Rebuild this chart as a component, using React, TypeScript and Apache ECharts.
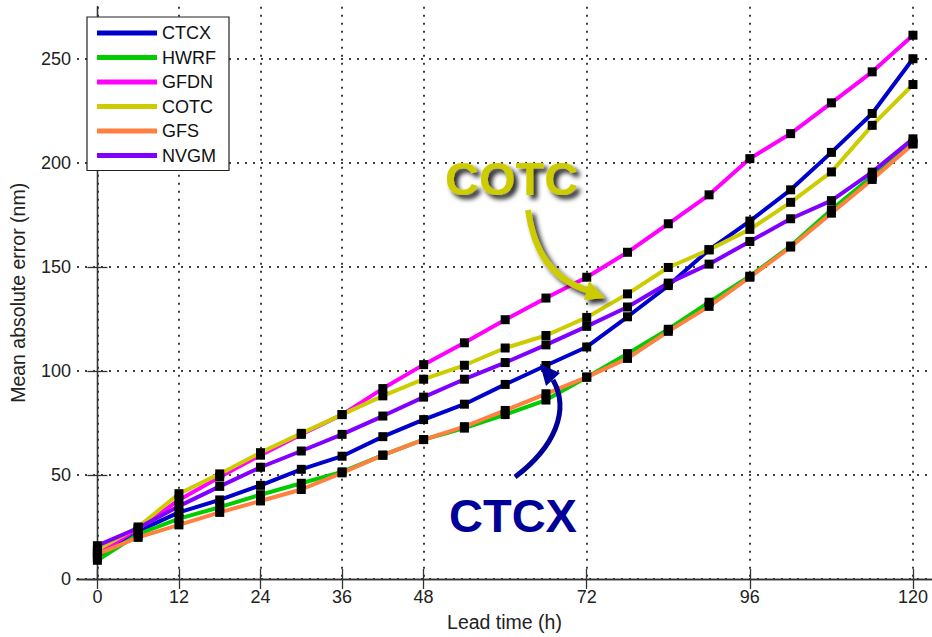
import React, { useEffect, useRef } from "react";
import * as echarts from "echarts";

const leadTimes = [0, 6, 12, 18, 24, 30, 36, 42, 48, 54, 60, 66, 72, 78, 84, 90, 96, 102, 108, 114, 120];
const ctcx = [10.5, 23, 32, 38, 45, 52.7, 59, 68.4, 76.6, 84, 93.5, 102.6, 111.5, 126, 141, 158.2, 172, 187, 205, 223.7, 250];
const hwrf = [9, 21.5, 29, 34.5, 40.5, 46, 51.5, 59.5, 67, 72.5, 79, 86, 97, 108.3, 120, 133, 145.5, 160, 177.4, 193.5, 209.5];
const gfdn = [12.5, 24, 38, 49, 59.5, 69.5, 79, 91.5, 103, 113.5, 124.6, 135, 145, 157, 170.7, 184.6, 202, 214, 228.8, 243.7, 261.3];
const cotc = [14, 25, 41, 50.5, 60.7, 70, 79, 88, 96, 102.7, 111, 117, 125.7, 137, 149.7, 158.2, 168, 181, 195.6, 218, 237.6];
const gfs = [12, 20, 26, 32, 37.5, 43, 51, 59.5, 67, 73.2, 81, 89, 97, 106, 119, 131, 145, 159.5, 175.8, 192, 209];
const nvgm = [16, 24.5, 35, 44.5, 53.7, 61.5, 69.5, 78.3, 87.4, 96, 104, 112.5, 121.4, 130.7, 142.2, 151.3, 162.2, 173.1, 181.8, 195.5, 211.5];

const seriesNames = ["CTCX", "HWRF", "GFDN", "COTC", "GFS", "NVGM"];
const seriesValues = [ctcx, hwrf, gfdn, cotc, gfs, nvgm];

const xTickValues = [0, 12, 24, 36, 48, 72, 96, 120];
const yTickValues = [0, 50, 100, 150, 200, 250];

const xAxisTitle = "Lead time (h)";
const yAxisTitle = "Mean absolute error (nm)";
const cotcNote = "COTC";
const ctcxNote = "CTCX";

const seriesColors = ["#0000cc", "#00cc00", "#ff00ff", "#cccc00", "#ff8040", "#8000ff"];
const FONT = '"Liberation Sans", Arial, Helvetica, sans-serif';

export default function App() {
  const ref = useRef<HTMLDivElement>(null);

  useEffect(() => {
    document.body.style.margin = "0";
    if (!ref.current) return;
    const chart = echarts.init(ref.current, null, { renderer: "svg" });

    const gridLine = { show: true, lineStyle: { color: "#000", width: 1.5, type: [2, 6] as any } };
    const axisLine = { show: true, lineStyle: { color: "#333", width: 1.3 } };
    const tickIn = { show: true, inside: true, length: 10, lineStyle: { color: "#333", width: 1.3 } };

    const option: any = {
      animation: false,
      backgroundColor: "#fff",
      grid: { left: 76.6, top: 6.7, width: 856.5, height: 573.3, containLabel: false },
      xAxis: [
        {
          type: "value",
          min: -3,
          max: 122.8,
          position: "bottom",
          axisLine,
          axisTick: { ...tickIn, customValues: xTickValues },
          axisLabel: { customValues: xTickValues, fontSize: 18, color: "#222", fontFamily: FONT, margin: 9 },
          splitLine: gridLine,
          name: xAxisTitle,
          nameLocation: "middle",
          nameGap: 33,
          nameTextStyle: { fontSize: 19.5, color: "#222", fontFamily: FONT },
        },
        {
          type: "value",
          min: -3,
          max: 122.8,
          position: "top",
          axisLine,
          axisTick: { ...tickIn, customValues: xTickValues },
          axisLabel: { show: false },
          splitLine: { show: false },
        },
      ],
      yAxis: [
        {
          type: "value",
          min: 0,
          max: 275,
          position: "left",
          axisLine,
          axisTick: { ...tickIn, customValues: yTickValues },
          axisLabel: { customValues: yTickValues, fontSize: 18, color: "#222", fontFamily: FONT, margin: 6 },
          splitLine: gridLine,
          name: yAxisTitle,
          nameLocation: "middle",
          nameGap: 49,
          nameTextStyle: { fontSize: 19.5, color: "#222", fontFamily: FONT },
        },
        {
          type: "value",
          min: 0,
          max: 275,
          position: "right",
          axisLine,
          axisTick: { ...tickIn, customValues: yTickValues },
          axisLabel: { show: false },
          splitLine: { show: false },
        },
      ],
      legend: {
        orient: "vertical",
        left: 87,
        top: 17,
        padding: [6, 13, 5, 10],
        itemGap: 4.5,
        itemWidth: 60,
        itemHeight: 5,
        icon: "rect",
        selectedMode: false,
        borderColor: "#222",
        borderWidth: 1.2,
        backgroundColor: "#fff",
        textStyle: { fontSize: 18, lineHeight: 20, color: "#111", fontFamily: FONT },
        data: seriesNames.map((n, i) => ({ name: n, itemStyle: { color: seriesColors[i] } })),
      },
      series: seriesNames.map((n, i) => ({
        name: n,
        type: "line",
        data: leadTimes.map((h, j) => [h, seriesValues[i][j]]),
        xAxisIndex: 0,
        yAxisIndex: 0,
        symbol: "rect",
        symbolSize: 9,
        showAllSymbol: true,
        lineStyle: { color: seriesColors[i], width: 4 },
        itemStyle: { color: "#000" },
        emphasis: { disabled: true },
      })),
      graphic: [
        {
          type: "bezierCurve",
          z: 100,
          shape: { x1: 528, y1: 210, cpx1: 534, cpy1: 252, cpx2: 552, cpy2: 280, x2: 590, y2: 291 },
          style: {
            stroke: "#cccc00",
            lineWidth: 6,
            fill: null,
            shadowColor: "rgba(0,0,0,0.85)",
            shadowBlur: 5,
            shadowOffsetX: 4,
            shadowOffsetY: 4,
          },
        },
        {
          type: "polygon",
          z: 100,
          shape: { points: [[605, 298], [589, 281], [584, 300]] },
          style: {
            fill: "#cccc00",
            shadowColor: "rgba(0,0,0,0.85)",
            shadowBlur: 5,
            shadowOffsetX: 4,
            shadowOffsetY: 4,
          },
        },
        {
          type: "text",
          z: 100,
          x: 445,
          y: 178,
          style: {
            text: cotcNote,
            fill: "#cccc00",
            font: `bold 47px ${FONT}`,
            align: "left",
            verticalAlign: "middle",
            textShadowColor: "rgba(0,0,0,0.9)",
            textShadowBlur: 5,
            textShadowOffsetX: 4,
            textShadowOffsetY: 4,
          },
        },
        {
          type: "bezierCurve",
          z: 100,
          shape: { x1: 515, y1: 477, cpx1: 555, cpy1: 447, cpx2: 570, cpy2: 410, x2: 553, y2: 380 },
          style: { stroke: "#000099", lineWidth: 5, fill: null },
        },
        {
          type: "polygon",
          z: 100,
          shape: { points: [[540, 364], [560, 373], [546, 386]] },
          style: { fill: "#000099" },
        },
        {
          type: "text",
          z: 100,
          x: 449,
          y: 515,
          style: {
            text: ctcxNote,
            fill: "#000099",
            font: `bold 47px ${FONT}`,
            align: "left",
            verticalAlign: "middle",
          },
        },
      ],
    };

    chart.setOption(option);
    return () => chart.dispose();
  }, []);

  return (
    <div
      ref={ref}
      style={{ position: "absolute", left: 0, top: 0, width: 932, height: 637 }}
    />
  );
}
